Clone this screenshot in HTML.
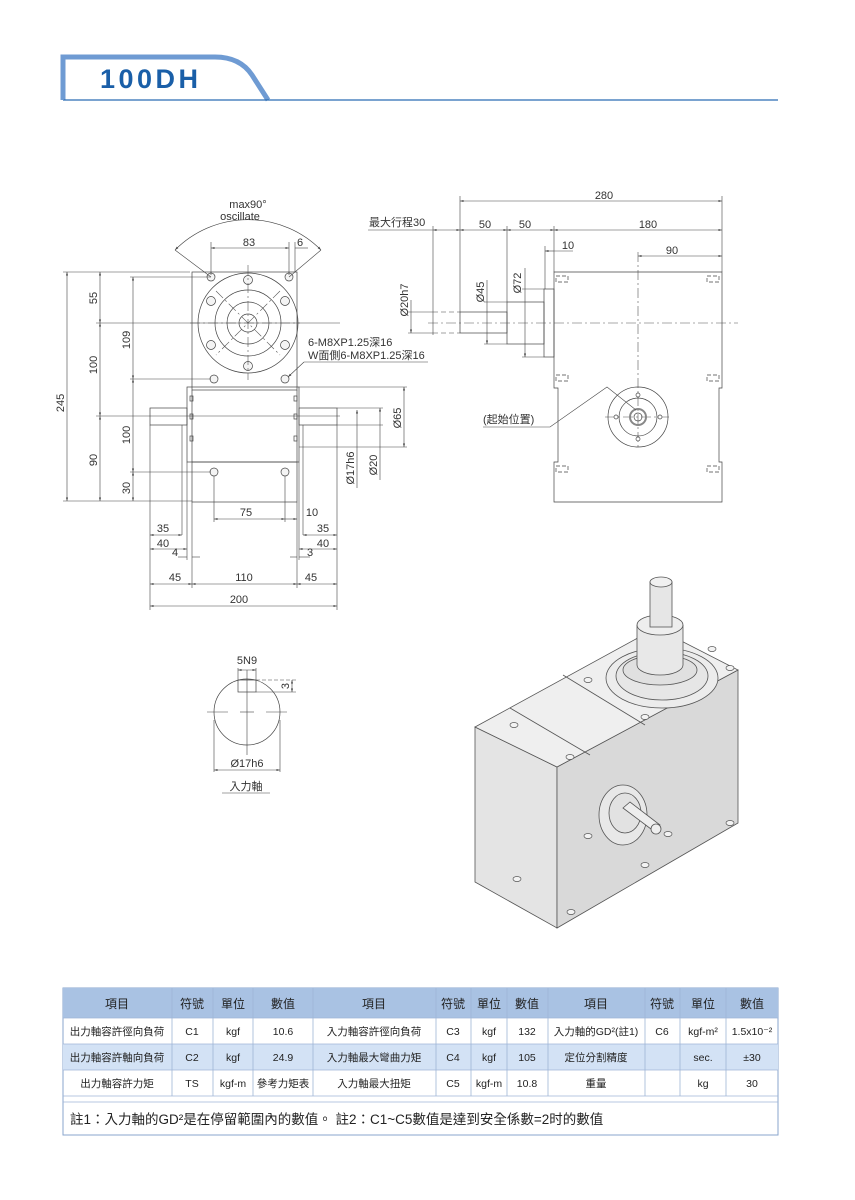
<!DOCTYPE html>
<html><head><meta charset="utf-8"><style>
html,body{margin:0;padding:0;background:#fff;}
svg{display:block;font-family:"Liberation Sans","Noto Sans CJK TC",sans-serif;}
.l{stroke:#444;stroke-width:0.7;fill:none}
.d{stroke:#444;stroke-width:0.6;fill:none}
.c{stroke:#555;stroke-width:0.6;fill:none;stroke-dasharray:10 3 2 3}
.t{font-size:11px;fill:#333}
.tb{font-size:12px;fill:#222;text-anchor:middle}
.ts{font-size:10.5px;fill:#222;text-anchor:middle}
</style></head><body>
<svg width="855" height="1200" viewBox="0 0 855 1200" xmlns="http://www.w3.org/2000/svg">
<defs>
<marker id="a" viewBox="0 0 10 10" refX="10" refY="5" markerWidth="6" markerHeight="6" orient="auto-start-reverse"><path d="M0,2 L10,5 L0,8z" fill="#444"/></marker>
</defs>
<!-- header -->
<path d="M63,100 L63,57 L215,57 Q240,57 252,75 L268,100" fill="none" stroke="#6f9bd3" stroke-width="5"/>
<line x1="63" y1="100" x2="778" y2="100" stroke="#2b6cb3" stroke-width="1.3"/>
<line x1="63" y1="57" x2="63" y2="100" stroke="#6f9bd3" stroke-width="1.5"/>
<text x="100" y="88" font-size="27" font-weight="bold" fill="#1a5fa8" letter-spacing="3.5">100DH</text>

<!-- LEFT FRONT VIEW -->
<rect x="192" y="272" width="105" height="118" fill="#ebebeb" class="l"/>
<rect x="187" y="387" width="112" height="75" fill="#ebebeb" class="l"/>
<rect x="192" y="462" width="105" height="40" fill="#ebebeb" class="l"/>
<line x1="192" y1="390" x2="192" y2="462" class="l"/><line x1="297" y1="390" x2="297" y2="462" class="l"/>
<rect x="150" y="408" width="37" height="17" fill="#ebebeb" class="l"/>
<rect x="299" y="408" width="38" height="17" fill="#ebebeb" class="l"/>
<g class="l">
<circle cx="248" cy="323" r="50"/><circle cx="248" cy="323" r="33"/><circle cx="248" cy="323" r="21"/><circle cx="248" cy="323" r="9"/>
</g>
<g fill="#f4f4f4" stroke="#444" stroke-width="0.7">
<circle cx="211" cy="277" r="4"/><circle cx="289" cy="277" r="4"/>
<circle cx="248" cy="280" r="4.5"/><circle cx="248" cy="366" r="4.5"/>
<circle cx="211" cy="301" r="4.5"/><circle cx="285" cy="301" r="4.5"/>
<circle cx="211" cy="345" r="4.5"/><circle cx="285" cy="345" r="4.5"/>
<circle cx="214" cy="379" r="4"/><circle cx="285" cy="379" r="4"/>
<circle cx="214" cy="472" r="4"/><circle cx="285" cy="472" r="4"/>
</g>
<g class="c"><line x1="248" y1="265" x2="248" y2="380"/><line x1="190" y1="323" x2="300" y2="323"/><line x1="216" y1="291" x2="280" y2="355"/><line x1="280" y1="291" x2="216" y2="355"/></g>
<g class="l"><rect x="190" y="396" width="3" height="5"/><rect x="190" y="414" width="3" height="5"/><rect x="190" y="436" width="3" height="5"/>
<rect x="294" y="396" width="3" height="5"/><rect x="294" y="414" width="3" height="5"/><rect x="294" y="436" width="3" height="5"/></g>
<!-- oscillate -->
<path d="M175,250 A103,103 0 0 1 321,250" class="d" marker-start="url(#a)" marker-end="url(#a)"/>
<line x1="175" y1="250" x2="211" y2="277" class="d"/><line x1="321" y1="250" x2="289" y2="277" class="d"/>
<text x="248" y="208" class="t" text-anchor="middle">max90°</text>
<text x="240" y="220" class="t" text-anchor="middle">oscillate</text>
<!-- 83 / 6 -->
<line x1="211" y1="248" x2="289" y2="248" class="d" marker-start="url(#a)" marker-end="url(#a)"/>
<line x1="211" y1="242" x2="211" y2="275" class="d"/><line x1="289" y1="242" x2="289" y2="275" class="d"/><line x1="295" y1="242" x2="295" y2="272" class="d"/>
<line x1="295" y1="248" x2="308" y2="248" class="d"/>
<text x="249" y="246" class="t" text-anchor="middle">83</text><text x="300" y="246" class="t" text-anchor="middle">6</text>
<!-- vertical dims -->
<g class="d">
<line x1="63" y1="272" x2="190" y2="272"/><line x1="63" y1="501" x2="192" y2="501"/>
<line x1="130" y1="277" x2="211" y2="277"/><line x1="130" y1="379" x2="211" y2="379"/><line x1="130" y1="472" x2="211" y2="472"/>
<line x1="96" y1="323" x2="340" y2="323"/><line x1="96" y1="416" x2="340" y2="416"/>
</g>
<line x1="67" y1="272" x2="67" y2="501" class="d" marker-start="url(#a)" marker-end="url(#a)"/>
<line x1="100" y1="272" x2="100" y2="323" class="d" marker-start="url(#a)" marker-end="url(#a)"/>
<line x1="100" y1="323" x2="100" y2="416" class="d" marker-start="url(#a)" marker-end="url(#a)"/>
<line x1="100" y1="416" x2="100" y2="501" class="d" marker-start="url(#a)" marker-end="url(#a)"/>
<line x1="133" y1="277" x2="133" y2="379" class="d" marker-start="url(#a)" marker-end="url(#a)"/>
<line x1="133" y1="379" x2="133" y2="472" class="d" marker-start="url(#a)" marker-end="url(#a)"/>
<line x1="133" y1="472" x2="133" y2="501" class="d" marker-start="url(#a)" marker-end="url(#a)"/>
<g class="t" text-anchor="middle">
<text transform="translate(64,403) rotate(-90)">245</text>
<text transform="translate(97,298) rotate(-90)">55</text>
<text transform="translate(97,365) rotate(-90)">100</text>
<text transform="translate(97,460) rotate(-90)">90</text>
<text transform="translate(130,340) rotate(-90)">109</text>
<text transform="translate(130,435) rotate(-90)">100</text>
<text transform="translate(130,488) rotate(-90)">30</text>
</g>
<!-- bottom dims -->
<g class="d">
<line x1="150" y1="425" x2="150" y2="610"/><line x1="337" y1="425" x2="337" y2="610"/>
<line x1="192" y1="502" x2="192" y2="588"/><line x1="297" y1="502" x2="297" y2="588"/>
<line x1="187" y1="462" x2="187" y2="560"/><line x1="299" y1="462" x2="299" y2="560"/>
<line x1="182" y1="425" x2="182" y2="535"/><line x1="303" y1="425" x2="303" y2="535"/>
<line x1="214" y1="476" x2="214" y2="522"/><line x1="285" y1="476" x2="285" y2="522"/>
<line x1="178" y1="557" x2="187" y2="557"/><line x1="192" y1="557" x2="200" y2="557"/>
<line x1="290" y1="557" x2="297" y2="557"/><line x1="299" y1="557" x2="310" y2="557"/>
</g>
<line x1="214" y1="519" x2="285" y2="519" class="d" marker-start="url(#a)" marker-end="url(#a)"/>
<line x1="285" y1="519" x2="297" y2="519" class="d" marker-end="url(#a)"/>
<line x1="150" y1="535" x2="182" y2="535" class="d" marker-start="url(#a)" marker-end="url(#a)"/>
<line x1="303" y1="535" x2="337" y2="535" class="d" marker-start="url(#a)" marker-end="url(#a)"/>
<line x1="150" y1="549" x2="187" y2="549" class="d" marker-start="url(#a)" marker-end="url(#a)"/>
<line x1="299" y1="549" x2="337" y2="549" class="d" marker-start="url(#a)" marker-end="url(#a)"/>
<line x1="150" y1="584" x2="192" y2="584" class="d" marker-start="url(#a)" marker-end="url(#a)"/>
<line x1="192" y1="584" x2="297" y2="584" class="d" marker-start="url(#a)" marker-end="url(#a)"/>
<line x1="297" y1="584" x2="337" y2="584" class="d" marker-start="url(#a)" marker-end="url(#a)"/>
<line x1="150" y1="606" x2="337" y2="606" class="d" marker-start="url(#a)" marker-end="url(#a)"/>
<g class="t" text-anchor="middle">
<text x="246" y="516">75</text><text x="312" y="516">10</text>
<text x="163" y="532">35</text><text x="323" y="532">35</text>
<text x="163" y="547">40</text><text x="323" y="547">40</text>
<text x="175" y="556">4</text><text x="310" y="556">3</text>
<text x="175" y="581">45</text><text x="244" y="581">110</text><text x="311" y="581">45</text>
<text x="239" y="603">200</text>
</g>
<!-- right dims of front view -->
<g class="d"><line x1="299" y1="387" x2="407" y2="387"/><line x1="299" y1="447" x2="407" y2="447"/>
<line x1="337" y1="408" x2="383" y2="408"/><line x1="337" y1="425" x2="383" y2="425"/></g>
<line x1="404" y1="387" x2="404" y2="447" class="d" marker-start="url(#a)" marker-end="url(#a)"/>
<line x1="380" y1="408" x2="380" y2="480" class="d" marker-start="url(#a)"/>
<line x1="357" y1="410" x2="357" y2="488" class="d" marker-start="url(#a)"/>
<g class="t" text-anchor="middle">
<text transform="translate(401,418) rotate(-90)">Ø65</text>
<text transform="translate(377,465) rotate(-90)">Ø20</text>
<text transform="translate(354,468) rotate(-90)">Ø17h6</text>
</g>
<text x="308" y="346" class="t">6-M8XP1.25深16</text>
<text x="308" y="359" class="t">W面側6-M8XP1.25深16</text>
<line x1="304" y1="362" x2="428" y2="362" class="d"/><line x1="304" y1="362" x2="288" y2="377" class="d" marker-end="url(#a)"/>

<!-- RIGHT SIDE VIEW -->
<path d="M554,272 L722,272 L722,388 L719,388 L719,462 L722,462 L722,502 L554,502 L554,462 L558,462 L558,388 L554,388 Z" fill="#ebebeb" class="l"/>
<rect x="544" y="289" width="10" height="68" fill="#ebebeb" class="l"/>
<rect x="507" y="302" width="37" height="42" fill="#ebebeb" class="l"/>
<rect x="460" y="312" width="47" height="21" fill="#ebebeb" class="l"/>
<g class="d" stroke-dasharray="5 3"><line x1="433" y1="312" x2="460" y2="312"/><line x1="433" y1="333" x2="460" y2="333"/></g>
<g class="l" stroke-dasharray="4 2">
<rect x="556" y="276" width="12" height="6"/><rect x="707" y="276" width="12" height="6"/>
<rect x="556" y="375" width="12" height="6"/><rect x="707" y="375" width="12" height="6"/>
<rect x="556" y="466" width="12" height="6"/><rect x="707" y="466" width="12" height="6"/>
</g>
<line x1="428" y1="323" x2="738" y2="323" class="c"/>
<line x1="638" y1="252" x2="638" y2="450" class="c"/>
<line x1="605" y1="417" x2="672" y2="417" class="c"/>
<g class="l"><circle cx="638" cy="417" r="30"/><circle cx="638" cy="417" r="19"/><circle cx="638" cy="417" r="8" stroke-width="2" stroke="#888"/><circle cx="638" cy="417" r="4"/></g>
<g fill="#fff" stroke="#444" stroke-width="0.7"><circle cx="638" cy="395" r="2"/><circle cx="638" cy="439" r="2"/><circle cx="616" cy="417" r="2"/><circle cx="660" cy="417" r="2"/></g>
<text x="483" y="423" class="t">(起始位置)</text>
<polyline points="483,427 550,427 607,387 636,410" class="d"/>
<!-- right view dims -->
<g class="d">
<line x1="460" y1="196" x2="460" y2="312"/><line x1="722" y1="196" x2="722" y2="272"/>
<line x1="433" y1="226" x2="433" y2="335"/><line x1="507" y1="226" x2="507" y2="302"/><line x1="554" y1="226" x2="554" y2="272"/>
<line x1="545" y1="246" x2="545" y2="289"/>
<line x1="408" y1="312" x2="433" y2="312"/><line x1="408" y1="333" x2="433" y2="333"/>
<line x1="484" y1="302" x2="507" y2="302"/><line x1="484" y1="344" x2="507" y2="344"/>
<line x1="522" y1="289" x2="544" y2="289"/><line x1="522" y1="357" x2="544" y2="357"/>
<line x1="368" y1="230" x2="433" y2="230"/>
</g>
<line x1="460" y1="201" x2="722" y2="201" class="d" marker-start="url(#a)" marker-end="url(#a)"/>
<line x1="433" y1="230" x2="460" y2="230" class="d" marker-start="url(#a)" marker-end="url(#a)"/>
<line x1="460" y1="230" x2="507" y2="230" class="d" marker-start="url(#a)" marker-end="url(#a)"/>
<line x1="507" y1="230" x2="554" y2="230" class="d" marker-start="url(#a)" marker-end="url(#a)"/>
<line x1="554" y1="230" x2="722" y2="230" class="d" marker-start="url(#a)" marker-end="url(#a)"/>
<line x1="545" y1="251" x2="554" y2="251" class="d" marker-start="url(#a)"/><line x1="554" y1="251" x2="573" y2="251" class="d"/>
<line x1="638" y1="256" x2="722" y2="256" class="d" marker-start="url(#a)" marker-end="url(#a)"/>
<line x1="411" y1="300" x2="411" y2="333" class="d" marker-end="url(#a)"/>
<line x1="487" y1="280" x2="487" y2="344" class="d" marker-end="url(#a)"/>
<line x1="525" y1="268" x2="525" y2="357" class="d" marker-end="url(#a)"/>
<g class="t" text-anchor="middle">
<text x="604" y="199">280</text>
<text x="485" y="228">50</text><text x="525" y="228">50</text><text x="648" y="228">180</text>
<text x="568" y="249">10</text><text x="672" y="254">90</text>
<text transform="translate(408,300) rotate(-90)">Ø20h7</text>
<text transform="translate(484,292) rotate(-90)">Ø45</text>
<text transform="translate(521,283) rotate(-90)">Ø72</text>
</g>
<text x="369" y="226" class="t">最大行程30</text>

<!-- KEY SECTION -->
<circle cx="247" cy="712" r="33" fill="#e2e2e2" class="l"/>
<rect x="238" y="680" width="18" height="12" fill="#d0d0d0" class="l"/>
<g class="d"><line x1="207" y1="712" x2="228" y2="712"/><line x1="266" y1="712" x2="287" y2="712"/><line x1="247" y1="670" x2="247" y2="755"/><line x1="240" y1="712" x2="254" y2="712"/>
<line x1="238" y1="668" x2="238" y2="680"/><line x1="256" y1="668" x2="256" y2="680"/>
<line x1="256" y1="680" x2="296" y2="680" stroke-dasharray="4 2"/><line x1="256" y1="692" x2="296" y2="692"/>
<line x1="214" y1="720" x2="214" y2="772"/><line x1="280" y1="720" x2="280" y2="772"/>
<line x1="222" y1="793" x2="270" y2="793"/></g>
<line x1="238" y1="670" x2="256" y2="670" class="d" marker-start="url(#a)" marker-end="url(#a)"/>
<line x1="292" y1="680" x2="292" y2="692" class="d" marker-start="url(#a)" marker-end="url(#a)"/>
<line x1="214" y1="770" x2="280" y2="770" class="d" marker-start="url(#a)" marker-end="url(#a)"/>
<text x="247" y="664" class="t" text-anchor="middle">5N9</text>
<text transform="translate(289,686) rotate(-90)" class="t" text-anchor="middle">3</text>
<text x="247" y="767" class="t" text-anchor="middle">Ø17h6</text>
<text x="246" y="790" class="t" text-anchor="middle">入力軸</text>

<!-- 3D ISOMETRIC -->
<g stroke="#555" stroke-width="0.8">
<polygon points="475,727 557,767 557,928 475,882" fill="#e4e4e4"/>
<polygon points="557,767 738,670 738,823 557,928" fill="#d9d9d9"/>
<polygon points="475,727 557,767 738,670 656,628" fill="#efefef"/>
<line x1="510" y1="708" x2="590" y2="755" />
<line x1="563" y1="675" x2="645" y2="725"/>
<ellipse cx="662" cy="678" rx="56" ry="30" fill="#ececec"/>
<ellipse cx="662" cy="676" rx="46" ry="24" fill="#e6e6e6"/>
<ellipse cx="660" cy="670" rx="37" ry="15" fill="#e0e0e0"/>
<path d="M637,625 L637,665 A23,10 0 0 0 683,665 L683,625" fill="#e8e8e8"/>
<ellipse cx="660" cy="625" rx="23" ry="10" fill="#eee"/>
<rect x="650" y="582" width="22" height="45" fill="#e6e6e6"/>
<ellipse cx="661" cy="582" rx="11" ry="5" fill="#f0f0f0"/>
<ellipse cx="623" cy="815" rx="24" ry="30" fill="#e8e8e8"/>
<ellipse cx="625" cy="813" rx="16" ry="20" fill="#e2e2e2"/>
<path d="M623,808 L655,832 L660,825 L630,802 Z" fill="#eee"/>
<ellipse cx="656" cy="829" rx="5" ry="5" fill="#eee"/>
</g>
<g fill="#f3f3f3" stroke="#555" stroke-width="0.7">
<ellipse cx="514" cy="725" rx="4" ry="2.5"/><ellipse cx="570" cy="757" rx="4" ry="2.5"/>
<ellipse cx="588" cy="680" rx="4" ry="2.5"/><ellipse cx="645" cy="717" rx="4" ry="2.5"/>
<ellipse cx="730" cy="668" rx="4" ry="2.5"/><ellipse cx="712" cy="649" rx="4" ry="2.5"/>
<ellipse cx="668" cy="834" rx="4" ry="2.5"/><ellipse cx="588" cy="836" rx="4" ry="2.5"/>
<ellipse cx="645" cy="865" rx="4" ry="2.5"/><ellipse cx="730" cy="823" rx="4" ry="2.5"/>
<ellipse cx="517" cy="879" rx="4" ry="2.5"/><ellipse cx="571" cy="912" rx="4" ry="2.5"/>
</g>

<!-- TABLE -->
<rect x="63" y="988" width="715" height="147" fill="#fff" stroke="#8aa6cc" stroke-width="1"/>
<rect x="63" y="988" width="715" height="30" fill="#a9c2e3"/>
<rect x="63" y="1044" width="715" height="26" fill="#d3e2f5"/>
<g stroke="#9fb5d6" stroke-width="0.8">
<line x1="63" y1="1018" x2="778" y2="1018"/><line x1="63" y1="1044" x2="778" y2="1044"/><line x1="63" y1="1070" x2="778" y2="1070"/><line x1="63" y1="1096" x2="778" y2="1096"/><line x1="63" y1="1102" x2="778" y2="1102"/>
<line x1="172" y1="988" x2="172" y2="1096"/><line x1="213" y1="988" x2="213" y2="1096"/><line x1="253" y1="988" x2="253" y2="1096"/><line x1="313" y1="988" x2="313" y2="1096"/><line x1="436" y1="988" x2="436" y2="1096"/><line x1="471" y1="988" x2="471" y2="1096"/><line x1="507" y1="988" x2="507" y2="1096"/><line x1="548" y1="988" x2="548" y2="1096"/><line x1="645" y1="988" x2="645" y2="1096"/><line x1="680" y1="988" x2="680" y2="1096"/><line x1="726" y1="988" x2="726" y2="1096"/>
</g>
<g class="tb" font-size="14">
<text x="117" y="1008">項目</text><text x="192" y="1008">符號</text><text x="233" y="1008">單位</text><text x="283" y="1008">數值</text>
<text x="374" y="1008">項目</text><text x="453" y="1008">符號</text><text x="489" y="1008">單位</text><text x="527" y="1008">數值</text>
<text x="596" y="1008">項目</text><text x="662" y="1008">符號</text><text x="703" y="1008">單位</text><text x="752" y="1008">數值</text>
</g>
<g class="ts">
<text x="117" y="1035">出力軸容許徑向負荷</text><text x="192" y="1035">C1</text><text x="233" y="1035">kgf</text><text x="283" y="1035">10.6</text>
<text x="374" y="1035">入力軸容許徑向負荷</text><text x="453" y="1035">C3</text><text x="489" y="1035">kgf</text><text x="527" y="1035">132</text>
<text x="596" y="1035">入力軸的GD²(註1)</text><text x="662" y="1035">C6</text><text x="703" y="1035">kgf-m²</text><text x="752" y="1035">1.5x10⁻²</text>
<text x="117" y="1061">出力軸容許軸向負荷</text><text x="192" y="1061">C2</text><text x="233" y="1061">kgf</text><text x="283" y="1061">24.9</text>
<text x="374" y="1061">入力軸最大彎曲力矩</text><text x="453" y="1061">C4</text><text x="489" y="1061">kgf</text><text x="527" y="1061">105</text>
<text x="596" y="1061">定位分割精度</text><text x="703" y="1061">sec.</text><text x="752" y="1061">±30</text>
<text x="117" y="1087">出力軸容許力矩</text><text x="192" y="1087">TS</text><text x="233" y="1087">kgf-m</text><text x="283" y="1087">參考力矩表</text>
<text x="374" y="1087">入力軸最大扭矩</text><text x="453" y="1087">C5</text><text x="489" y="1087">kgf-m</text><text x="527" y="1087">10.8</text>
<text x="596" y="1087">重量</text><text x="703" y="1087">kg</text><text x="752" y="1087">30</text>
</g>
<text x="70" y="1124" font-size="13.5" fill="#222">註1：入力軸的GD²是在停留範圍內的數值。 註2：C1~C5數值是達到安全係數=2时的數值</text>
</svg>
</body></html>
